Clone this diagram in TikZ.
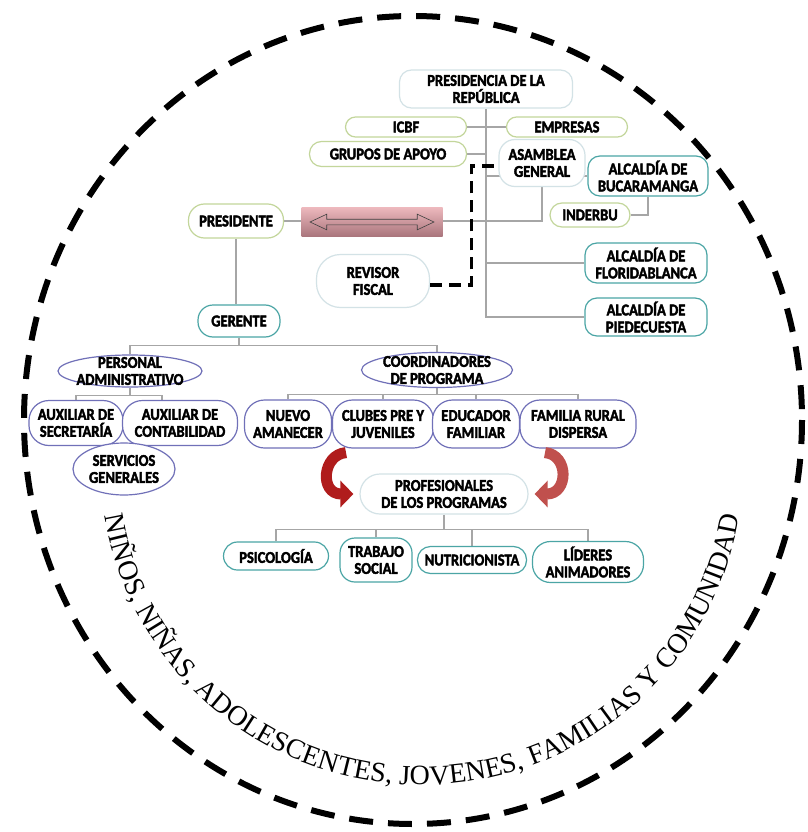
\documentclass[tikz,border=0pt]{standalone}
\usepackage{fontspec}
\setmainfont{Carlito}
\newfontfamily\cajafont[FakeBold=2.4, FakeStretch=0.88]{Carlito}
\newfontfamily\serifcirc{Liberation Serif}
\usetikzlibrary{positioning,calc,arrows.meta,shapes.geometric,shapes.arrows,decorations.text,backgrounds}
\definecolor{verdelima}{HTML}{C3D69B}
\definecolor{verdeazul}{HTML}{4BA5A5}
\definecolor{grisclaro}{HTML}{D3E2E6}
\definecolor{morado}{HTML}{7070B8}
\definecolor{gris}{HTML}{A6A6A6}
\definecolor{rojoosc}{HTML}{B01C1C}
\definecolor{rojoclaro}{HTML}{C0504D}
\definecolor{rosa}{HTML}{EDB8BD}
\definecolor{malva}{HTML}{A9757C}

\begin{document}
\begin{tikzpicture}[x=1pt, y=-1pt,
    caja/.style={draw, fill=white, line width=1.2pt, inner sep=0pt, align=center, font=\cajafont\bfseries\fontsize{16.5}{17}\selectfont},
    tam/.style 2 args={minimum width=#1pt, minimum height=#2pt},
    lima/.style={caja, draw=verdelima, rounded corners=#1}, lima/.default=10pt,
    aqua/.style={caja, draw=verdeazul, rounded corners=#1}, aqua/.default=12pt,
    tenue/.style={caja, draw=grisclaro, rounded corners=#1}, tenue/.default=14pt,
    morada/.style={caja, draw=morado, rounded corners=#1}, morada/.default=20pt,
    ovalo/.style={caja, ellipse, draw=morado},
    texto/.style={font=\cajafont\bfseries\fontsize{16.5}{17}\selectfont, align=center, inner sep=0pt},
    enlace/.style={inner sep=0pt, top color=rosa, bottom color=malva},
    linea/.style={draw=gris, line width=1.2pt},
    fiscal/.style={draw=black, line width=3.5pt, dash pattern=on 12pt off 7pt},
    borde/.style={draw=black, line width=6pt, dash pattern=on 24pt off 15pt},
    flecha/.style={line width=11pt, -{Triangle[width=26pt,length=13pt]}},
  ]
  \useasboundingbox (0,0) rectangle (807,832);
  \begin{scope}[on background layer]
    \fill[white] (0,0) rectangle (807,832);
  \end{scope}

  % Circulo punteado
  \draw[borde] (413,420) ellipse [x radius=389, y radius=404];

  % Texto en arco
  \path[decorate, decoration={text along path, text align=center,
      text={|\serifcirc\fontsize{28}{30}\selectfont|NIÑOS, NIÑAS, ADOLESCENTES, JOVENES, FAMILIAS Y COMUNIDAD}}]
    (422,463) ++(175:322) arc[start angle=175, end angle=5, radius=322];

  % Nivel superior
  \node[tenue=12pt, tam={173}{38}] (presrep) at (486,89) {PRESIDENCIA DE LA\\REPÚBLICA};
  \node[lima, tam={121}{20}] (icbf) at (406,127) {ICBF};
  \node[lima, tam={121}{20}] (empresas) at (567,127) {EMPRESAS};
  \node[lima=12pt, tam={157}{25}] (grupos) at (388,154) {GRUPOS DE APOYO};
  \node[tenue=16pt, tam={86}{47}] (asamblea) at (542,163) {ASAMBLEA\\GENERAL};
  \node[aqua, tam={120}{40}] (bucara) at (648,176) {ALCALDÍA DE\\BUCARAMANGA};
  \node[lima=12pt, tam={80}{24}] (inderbu) at (590,215) {INDERBU};
  \node[lima=16pt, tam={95}{34}] (presidente) at (236,221) {PRESIDENTE};
  \node[tenue=24pt, tam={113}{53}] (revisor) at (373,281) {REVISOR\\FISCAL};
  \node[aqua, tam={122}{40}] (florida) at (646,263) {ALCALDÍA DE\\FLORIDABLANCA};
  \node[aqua, tam={122}{38}] (piede) at (646,317) {ALCALDÍA DE\\PIEDECUESTA};
  \node[aqua=15pt, tam={82}{32}] (gerente) at (239,321) {GERENTE};

  % Personal y coordinadores
  \node[ovalo, tam={144}{32}, label={[texto]center:PERSONAL\\ADMINISTRATIVO}] (personal) at (130,371) {};
  \node[ovalo, tam={151}{35}, label={[texto]center:COORDINADORES\\DE PROGRAMA}] (coord) at (437,370) {};
  \node[morada, tam={94}{45}] (auxsec) at (76,423) {AUXILIAR DE\\SECRETARÍA};
  \node[morada, tam={115}{45}] (auxcont) at (180,423) {AUXILIAR DE\\CONTABILIDAD};
  \node[ovalo, tam={102}{52}, label={[texto]center:SERVICIOS\\GENERALES}] (servicios) at (124,469) {};
  \node[morada, tam={87}{48}] (nuevo) at (288,424) {NUEVO\\AMANECER};
  \node[morada, tam={101}{48}] (clubes) at (383,424) {CLUBES PRE Y\\JUVENILES};
  \node[morada, tam={87}{48}] (educador) at (476,424) {EDUCADOR\\FAMILIAR};
  \node[morada, tam={116}{48}] (familia) at (578,424) {FAMILIA RURAL\\DISPERSA};

  % Profesionales
  \node[tenue=20pt, tam={168}{40}] (prof) at (444,494) {PROFESIONALES\\DE LOS PROGRAMAS};
  \node[aqua=14pt, tam={105}{28}] (psico) at (276,556) {PSICOLOGÍA};
  \node[aqua=15pt, tam={72}{44}] (trabajo) at (376,560) {TRABAJO\\SOCIAL};
  \node[aqua=13pt, tam={109}{27}] (nutri) at (472,560) {NUTRICIONISTA};
  \node[aqua=18pt, tam={111}{41}] (lideres) at (588,562) {LÍDERES\\ANIMADORES};

  % Enlace presidente - asamblea
  \node[enlace, tam={141}{29}] (enlace) at (372,222) {};
  \node[double arrow, draw=black!75, line width=0.6pt, minimum height=124pt, minimum width=15pt,
        inner sep=2.5pt, double arrow head extend=5pt, double arrow tip angle=50] (doble) at (enlace) {};

  % Lineas
  \begin{scope}[on background layer]
    \draw[linea] (presrep.south) |- (piede.west);
    \draw[linea] (icbf.east) -- (empresas.west);
    \draw[linea] (grupos.east) -- (grupos.east -| presrep.south);
    \draw[linea] (presrep.south |- bucara.west) -- (bucara.west);
    \draw[linea] (presrep.south |- florida.west) -- (florida.west);
    \draw[linea] (bucara.south) |- (inderbu.east);
    \draw[linea] (presidente.east) -| (asamblea.south);
    \draw[linea] (presidente.south) -- (presidente.south |- gerente.north);
    \draw[linea] (gerente.south) -- ++(0,8) coordinate (g1);
    \draw[linea] (personal.north) |- (g1) -| (coord.north);
    \draw[linea] (personal.south) -- ++(0,8) coordinate (p1);
    \draw[linea] (auxsec.north) |- (p1) -| ([xshift=-18]auxcont.north);
    \draw[linea] (coord.south) -- ++(0,6) coordinate (c1);
    \draw[linea] (nuevo.north) |- (c1) -| (familia.north);
    \draw[linea] (clubes.north) -- (clubes.north |- c1);
    \draw[linea] (educador.north) -- (educador.north |- c1);
    \draw[linea] (prof.south) -- ++(0,15) coordinate (q1);
    \draw[linea] (psico.north) |- (q1) -| (lideres.north);
    \draw[linea] (trabajo.north) -- (trabajo.north |- q1);
    \draw[linea] (nutri.north) -- (nutri.north |- q1);
  \end{scope}

  % Revisor fiscal
  \draw[fiscal] ([yshift=-4]revisor.east) -| ([xshift=-27,yshift=-3]asamblea.west) -- ([yshift=-3]asamblea.west);

  % Flechas curvas
  \draw[flecha, rojoosc] ([xshift=-37,yshift=-4]clubes.south) .. controls +(-24,2) and +(-34,0) .. ([xshift=-6]prof.west);
  \draw[flecha, rojoclaro] ([xshift=-33,yshift=-4]familia.south) .. controls +(24,2) and +(34,0) .. ([xshift=6]prof.east);
\end{tikzpicture}
\end{document}
